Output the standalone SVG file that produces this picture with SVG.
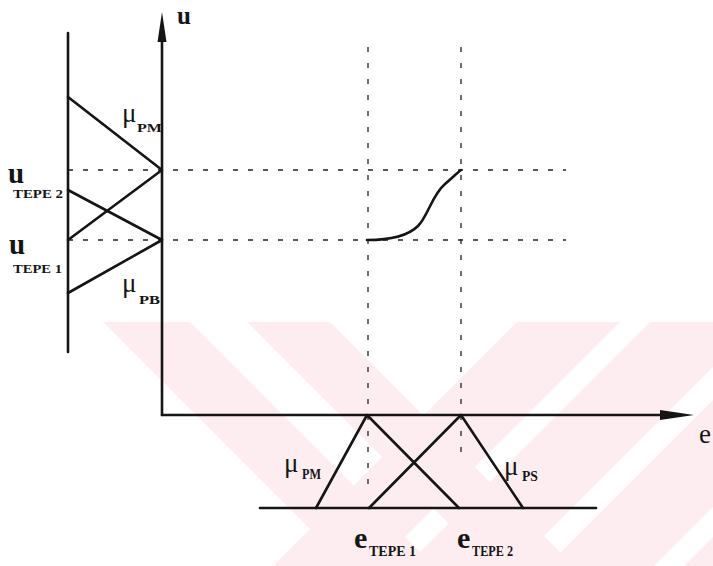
<svg xmlns="http://www.w3.org/2000/svg" width="713" height="566" viewBox="0 0 713 566">
  <defs>
    <style>
      .ln { stroke: #151515; stroke-width: 2.6; fill: none; stroke-linecap: round; stroke-linejoin: round; }
      .ds { stroke: #222; stroke-width: 1.3; fill: none; stroke-dasharray: 5 10; }
      .dv { stroke: #222; stroke-width: 1.3; fill: none; stroke-dasharray: 5 11; }
      .wm { fill: #fdedf0; }
      text { font-family: "Liberation Serif", "Times New Roman", serif; fill: #151515; }
      .ub { font-size: 29px; font-weight: bold; }
      .mu { font-size: 27px; }
      .sub { font-size: 13px; font-weight: bold; }
      .sub2 { font-size: 15px; font-weight: bold; }
    </style>
    <clipPath id="wmclip"><rect x="0" y="322" width="713" height="244"/></clipPath>
  </defs>

  <g id="watermark" clip-path="url(#wmclip)">
    <polygon class="wm" points="103,322 190,322 434,566 347,566"/>
    <polygon class="wm" points="247,322 330,322 574,566 491,566"/>
    <polygon class="wm" points="517,322 620,322 376,566 273,566"/>
    <polygon class="wm" points="650,322 758,322 514,566 406,566"/>
    <polygon class="wm" points="791,322 898,322 654,566 547,566"/>
    <polygon class="wm" points="928,322 1040,322 796,566 684,566"/>
  </g>

  <g id="connectors">
    <line class="ds" x1="68" y1="170" x2="566" y2="170"/>
    <line class="ds" x1="68" y1="240" x2="566" y2="240"/>
    <line class="dv" x1="368" y1="47" x2="368" y2="492"/>
    <line class="dv" x1="461" y1="47" x2="461" y2="455"/>
  </g>

  <g id="u-axis">
    <line class="ln" x1="162" y1="36" x2="162" y2="415"/>
    <polygon points="162,12 166.5,42 157.5,42" fill="#151515"/>
    <text x="177" y="24" style="font-size:25px;font-weight:bold">u</text>
  </g>

  <g id="e-axis">
    <line class="ln" x1="162" y1="415" x2="670" y2="415"/>
    <polygon points="694,415 660,410 660,420" fill="#151515"/>
    <text x="699" y="443" style="font-size:27px">e</text>
  </g>

  <g id="u-membership">
    <line class="ln" x1="68" y1="33" x2="68" y2="352"/>
    <polyline class="ln" points="68,97 162,170 68,240"/>
    <polyline class="ln" points="68,190 162,240 68,293"/>
    <text class="mu" x="122" y="122">μ</text>
    <text class="sub" x="137" y="132" textLength="25" lengthAdjust="spacingAndGlyphs">PM</text>
    <text class="mu" x="122" y="292">μ</text>
    <text class="sub" x="139" y="304" textLength="21" lengthAdjust="spacingAndGlyphs">PB</text>
    <text class="ub" x="8" y="183">u</text>
    <text class="sub" x="13" y="198" textLength="50" lengthAdjust="spacingAndGlyphs">TEPE 2</text>
    <text class="ub" x="9" y="254">u</text>
    <text class="sub" x="13" y="273" textLength="49" lengthAdjust="spacingAndGlyphs">TEPE 1</text>
  </g>

  <g id="e-membership">
    <line class="ln" x1="260" y1="508" x2="596" y2="508"/>
    <polyline class="ln" points="316,508 367,415 459,508"/>
    <polyline class="ln" points="369,508 461,415 523,508"/>
    <text class="mu" x="284" y="472">μ</text>
    <text class="sub2" x="302" y="479" textLength="19" lengthAdjust="spacingAndGlyphs">PM</text>
    <text class="mu" x="504" y="475">μ</text>
    <text class="sub2" x="522" y="481" textLength="16" lengthAdjust="spacingAndGlyphs">PS</text>
    <text x="354" y="548" style="font-size:30px;font-weight:bold">e</text>
    <text class="sub2" x="369" y="556" textLength="47" lengthAdjust="spacingAndGlyphs">TEPE 1</text>
    <text x="457" y="548" style="font-size:30px;font-weight:bold">e</text>
    <text class="sub2" x="472" y="556" textLength="41" lengthAdjust="spacingAndGlyphs">TEPE 2</text>
  </g>

  <g id="control-curve">
    <path class="ln" d="M367,240 C390,240 408,236 418,226 C428,216 432,195 445,184 C452,178 457,173 461,170"/>
  </g>
</svg>
